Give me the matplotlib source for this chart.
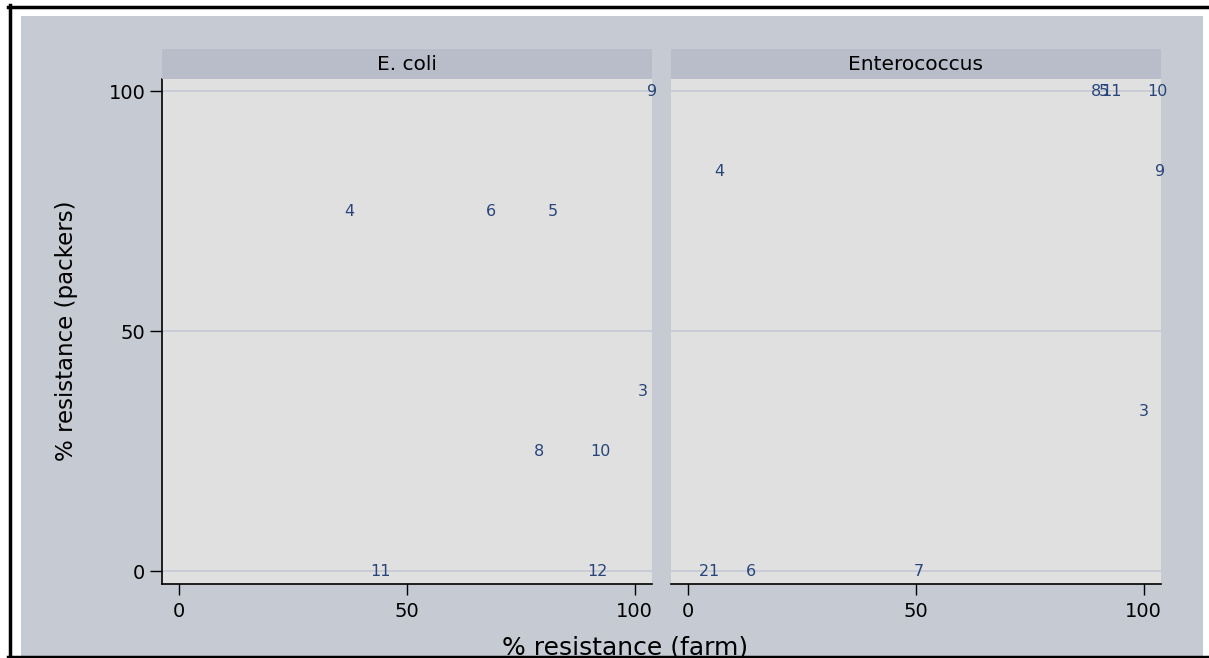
import numpy as np
import matplotlib
matplotlib.use("Agg")
import matplotlib.pyplot as plt
from matplotlib.patches import Rectangle
from matplotlib.lines import Line2D

# ── data: label, % resistance (farm), % resistance (packers) ──
ecoli_labels = ["9", "4", "6", "5", "3", "8", "10", "11", "12"]
ecoli_farm = [103.8, 37.4, 68.5, 82.1, 101.8, 79.0, 92.4, 44.2, 91.9]
ecoli_pack = [100, 75, 75, 75, 37.5, 25, 25, 0, 0]

entero_labels = ["8", "5", "11", "10", "4", "9", "3", "2", "1", "6", "7"]
entero_farm = [89.5, 91.3, 93.0, 103.1, 6.8, 103.5, 100.0, 3.5, 5.5, 13.8, 50.7]
entero_pack = [100, 100, 100, 100, 83.3, 83.3, 33.3, 0, 0, 0, 0]

panel_titles = ["E. coli", "Enterococcus"]
xticks = [0, 50, 100]
yticks = [0, 50, 100]

BG = "#c6cad3"
PLOT_BG = "#e0e0e0"
STRIP_BG = "#b9bdca"
GRID = "#c4c8d2"
LAB = "#27457a"

plt.rcParams["font.family"] = ["DejaVu Sans"]

W, H = 1209, 658
fig = plt.figure(figsize=(W / 100, H / 100), dpi=100)
fig.patch.set_facecolor("white")


def fx(px):
    return px / W


def fy(py):
    return 1 - py / H


# outer graph region + frame lines
fig.patches.append(Rectangle((fx(21), fy(656)), fx(1203 - 21), (656 - 16) / H,
                             transform=fig.transFigure, facecolor=BG,
                             edgecolor="none", zorder=-5))
for xs, ys in [((8, 1209), (6.5, 6.5)), ((9.5, 9.5), (5, 658)), ((8, 1209), (657, 657))]:
    fig.lines.append(Line2D([fx(x) for x in xs], [fy(y) for y in ys],
                            transform=fig.transFigure, color="black", lw=2.5,
                            zorder=-4))

panels = [
    (162, ecoli_labels, ecoli_farm, ecoli_pack),
    (671, entero_labels, entero_farm, entero_pack),
]

for i, (left, labels, xs, ys) in enumerate(panels):
    ax = fig.add_axes([fx(left), fy(584), fx(490), 505 / H])
    ax.set_facecolor(PLOT_BG)
    ax.set_xlim(-3.7, 103.8)
    ax.set_ylim(-2.7, 102.5)
    for y in yticks:
        ax.axhline(y, color=GRID, lw=1.2, zorder=1)
    for lab, x, y in zip(labels, xs, ys):
        ax.text(x, y, lab, color=LAB, fontsize=11.5, ha="center", va="center",
                clip_on=False, zorder=3)
    ax.set_xticks(xticks)
    ax.tick_params(axis="x", direction="out", length=8, width=1, labelsize=14, pad=5)
    for s in ["top", "right"]:
        ax.spines[s].set_visible(False)
    ax.spines["bottom"].set_linewidth(1.2)
    if i == 0:
        ax.set_yticks(yticks)
        ax.tick_params(axis="y", direction="out", length=9, width=1, labelsize=14, pad=3)
        ax.spines["left"].set_linewidth(1.2)
    else:
        ax.set_yticks([])
        ax.spines["left"].set_visible(False)

    # strip
    sax = fig.add_axes([fx(left), fy(79), fx(490), 30 / H])
    sax.set_facecolor(STRIP_BG)
    sax.set_xticks([])
    sax.set_yticks([])
    for s in sax.spines.values():
        s.set_visible(False)
    sax.text(0.5, 0.5, panel_titles[i], ha="center", va="center", fontsize=14.5,
             transform=sax.transAxes)

fig.text(fx(625), fy(647), "% resistance (farm)", ha="center", va="center", fontsize=18)
fig.text(fx(66), fy(331), "% resistance (packers)", ha="center", va="center",
         rotation=90, fontsize=16.5)

fig.savefig("out.png", dpi=100, facecolor=fig.get_facecolor())
